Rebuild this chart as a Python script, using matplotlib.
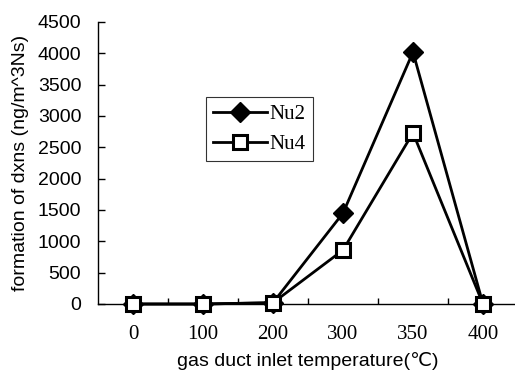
import matplotlib
matplotlib.use("Agg")
import matplotlib.pyplot as plt
from matplotlib.ticker import FixedLocator

categories = ["0", "100", "200", "300", "350", "400"]
nu2 = [0, 0, 20, 1450, 4020, 0]
nu4 = [0, 0, 20, 860, 2730, 0]
yticks = [0, 500, 1000, 1500, 2000, 2500, 3000, 3500, 4000, 4500]

fig = plt.figure(figsize=(5.15, 3.75), dpi=100)
ax = fig.add_axes([98/515, 1-304/375, 420/515, 282/375])
x = list(range(len(categories)))
ax.plot(x, nu2, color="black", lw=2, marker="D", ms=10.5, mfc="black", mec="black",
        label="Nu2", clip_on=False, zorder=3)
ax.plot(x, nu4, color="black", lw=2, marker="s", ms=10.5, mfc="white", mec="black",
        mew=2.2, label="Nu4", clip_on=False, zorder=4)

ax.set_xlim(-0.5, 5.5)
ax.set_ylim(0, 4500)
ax.set_yticks(yticks)
ax.set_xticks(x)
ax.set_xticklabels(categories, family="Liberation Serif", fontsize=15)
ax.xaxis.set_minor_locator(FixedLocator([0.5, 1.5, 2.5, 3.5, 4.5]))
ax.tick_params(axis="x", which="major", length=0, pad=15)
ax.tick_params(axis="x", which="minor", direction="in", length=4, width=1)
ax.tick_params(axis="y", direction="in", length=5, width=1, pad=12)
for lbl in ax.get_yticklabels():
    lbl.set_family("Liberation Sans")
    lbl.set_fontsize(14)
for s in ["top", "right"]:
    ax.spines[s].set_visible(False)
ax.spines["left"].set_linewidth(1)
ax.spines["bottom"].set_linewidth(1)

ax.set_xlabel("gas duct inlet temperature(℃)", family=["Liberation Sans", "DejaVu Sans"],
              fontsize=14, labelpad=6)
ax.set_ylabel("formation of dxns (ng/m^3Ns)", family=["Liberation Sans", "DejaVu Sans"],
              fontsize=14, labelpad=6)

leg = ax.legend(loc="upper left", bbox_to_anchor=((206-98)/420, (304-97)/282),
                prop={"family": "Liberation Serif", "size": 15}, frameon=True,
                fancybox=False, edgecolor="black", handlelength=2.6,
                borderpad=0.35, labelspacing=0.5, handletextpad=0.1, borderaxespad=0)
leg.get_frame().set_linewidth(0.8)

fig.savefig("out.png", dpi=100)
